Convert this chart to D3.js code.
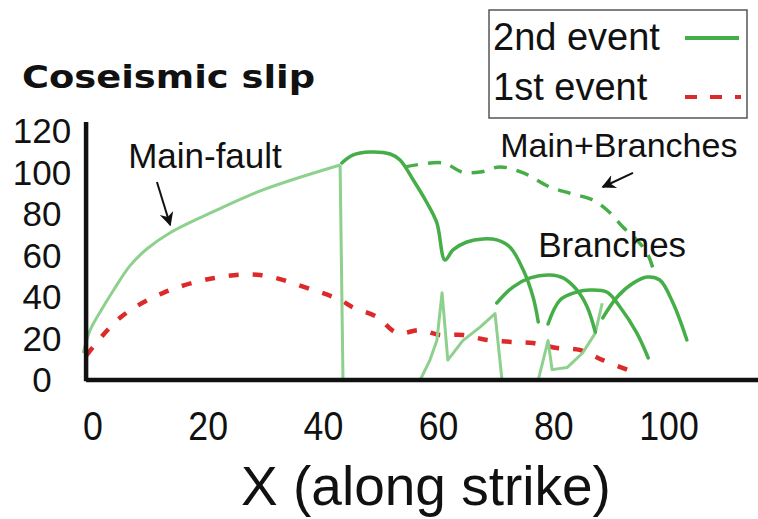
<!DOCTYPE html>
<html>
<head>
<meta charset="utf-8">
<script src="https://cdn.jsdelivr.net/npm/d3@7"></script>
<style>
  body { margin: 0; background: #fff; }
  svg { display: block; font-family: "Liberation Sans", Arial, sans-serif; }
</style>
</head>
<body>
<div id="chart"></div>
<script>
// tick labels
var xTicks = [0, 20, 40, 60, 80, 100];
var yTicks = [0, 20, 40, 60, 80, 100, 120];

// 2nd event, main fault alone (light green)
var mainFault = [[-1.7, 13], [-0.5, 24], [1.5, 34], [3.5, 43], [6.4, 55], [9.5, 63.5], [13.4, 71],
  [20.8, 81], [29.5, 91.6], [42.9, 103.6]];
// 2nd event, what is left of the main fault after branching (light green, sharp)
var mainFaultRest = [[42.9, 103.6], [43.4, 0], [56.8, 0], [58.5, 9.6], [59.7, 19], [60.6, 42],
  [61.6, 9.6], [64.2, 19], [67.2, 25.5], [69.8, 32], [71, 0], [77.3, 0], [79, 19],
  [79.7, 5], [82.3, 6], [85, 13], [87.2, 22.6], [88.4, 37]];
// 2nd event, main fault with branches (dark green)
var mainBranches = [[43.2, 104.6], [45.1, 108.4], [48.1, 109.9], [51.6, 108.9], [53.3, 106],
  [55.6, 96.4], [58, 85.3], [59.7, 75.7], [61.1, 57.8], [62.5, 62.7], [64.9, 66.5],
  [67.7, 68], [70.1, 67.5], [72.4, 64], [74.7, 53], [76.4, 40], [77.3, 28]];
// 2nd event, sum main + branches (dark green dashed)
var mainPlusBranches = [[54.2, 102.7], [60.8, 104.6], [64.1, 100.2], [67.2, 100.2], [70.7, 102.7],
  [74.7, 99.8], [79.3, 93], [82.8, 90], [86.8, 86.7], [89.8, 80.5], [92, 73.7],
  [94.4, 67.5], [96.2, 61.2], [97.2, 54]];
// branch profiles
var branchA = [[70.1, 37.1], [72.9, 44.8], [75.9, 49.2], [79.3, 50.6], [81.6, 49.2], [84, 43.4],
  [85.8, 35.2], [87.2, 23.1]];
var branchB = [[79, 27], [81.1, 38.6], [84, 42.4], [86.3, 43.4], [89.2, 42.4], [91.5, 35.2],
  [94.4, 22.7], [96.4, 10.6]];
var branchC = [[88.5, 29.9], [91, 40], [93.8, 46.7], [96.2, 49.6], [98.4, 48.2], [100.7, 37.1],
  [103.1, 19.3]];
// 1st event (red dashed)
var firstEvent = [[-1.1, 12], [4.7, 30], [12.2, 42], [20.8, 49], [29, 50.6], [38.2, 43.4],
  [42.9, 38.6], [45.1, 35], [49.3, 30.4], [52.8, 22.7], [56.8, 24], [60.2, 21.7],
  [64.2, 21.7], [68.4, 19.3], [72.9, 18.3], [76.4, 17.8], [80.6, 15.4], [84.5, 14.5],
  [88.5, 9.6], [92.9, 4.8]];

var width = 758, height = 519;
var lightGreen = '#8ed08e', darkGreen = '#45ae48', red = '#dc2a2a';

var svg = d3.select('#chart').append('svg')
  .attr('width', width)
  .attr('height', height);

var x = d3.scaleLinear().domain([0, 100]).range([93, 669]);
var y = d3.scaleLinear().domain([0, 120]).range([380, 131]);

var smooth = d3.line()
  .x(function(d) { return x(d[0]); })
  .y(function(d) { return y(d[1]); })
  .curve(d3.curveCatmullRom.alpha(0.5));
var sharp = d3.line()
  .x(function(d) { return x(d[0]); })
  .y(function(d) { return y(d[1]); });

// markers for annotation arrows
var defs = svg.append('defs');
defs.append('marker')
  .attr('id', 'head')
  .attr('viewBox', '0 0 10 10')
  .attr('refX', 9).attr('refY', 5)
  .attr('markerWidth', 9).attr('markerHeight', 7)
  .attr('markerUnits', 'strokeWidth')
  .attr('orient', 'auto')
  .append('path').attr('d', 'M0,0 L10,5 L0,10 L3,5 Z').attr('fill', '#111');

// 1st event
svg.append('path')
  .attr('d', smooth(firstEvent))
  .attr('fill', 'none').attr('stroke', red)
  .attr('stroke-width', 4.5).attr('stroke-dasharray', '10,14');

// 2nd event, light main fault
svg.append('path')
  .attr('d', smooth(mainFault))
  .attr('fill', 'none').attr('stroke', lightGreen).attr('stroke-width', 3);
svg.append('path')
  .attr('d', sharp(mainFaultRest))
  .attr('fill', 'none').attr('stroke', lightGreen).attr('stroke-width', 3)
  .attr('stroke-linejoin', 'round');

// dark green solid profiles
[mainBranches, branchA, branchB, branchC].forEach(function(s) {
  svg.append('path')
    .attr('d', smooth(s))
    .attr('fill', 'none').attr('stroke', darkGreen)
    .attr('stroke-width', 3.5).attr('stroke-linecap', 'round');
});

// dashed sum
svg.append('path')
  .attr('d', smooth(mainPlusBranches))
  .attr('fill', 'none').attr('stroke', darkGreen)
  .attr('stroke-width', 3.5).attr('stroke-dasharray', '13,10');

// axes
svg.append('line')
  .attr('x1', x(-1.2)).attr('x2', x(-1.2))
  .attr('y1', y(124.3)).attr('y2', y(-0.6))
  .attr('stroke', '#111').attr('stroke-width', 4.5);
svg.append('line')
  .attr('x1', x(-1.2)).attr('x2', width)
  .attr('y1', y(0)).attr('y2', y(0))
  .attr('stroke', '#111').attr('stroke-width', 4.5);

svg.selectAll('.ytick').data(yTicks).enter()
  .append('text').attr('class', 'ytick')
  .attr('x', 42)
  .attr('y', function(d) { return y(d) + 12; })
  .attr('text-anchor', 'middle')
  .attr('font-size', 35).attr('fill', '#111')
  .text(function(d) { return d; });

svg.selectAll('.xtick').data(xTicks).enter()
  .append('text').attr('class', 'xtick')
  .attr('transform', function(d) { return 'translate(' + x(d) + ',440) scale(0.87,1)'; })
  .attr('text-anchor', 'middle')
  .attr('font-size', 41).attr('fill', '#111')
  .text(function(d) { return d; });

svg.append('text')
  .attr('x', 426).attr('y', 505)
  .attr('text-anchor', 'middle')
  .attr('font-size', 55).attr('fill', '#111')
  .text('X (along strike)');

// title
svg.append('text')
  .attr('x', 22).attr('y', 88)
  .attr('font-family', '"DejaVu Sans", sans-serif')
  .attr('font-weight', 'bold')
  .attr('font-size', 32)
  .attr('textLength', 293).attr('lengthAdjust', 'spacingAndGlyphs')
  .attr('fill', '#111')
  .text('Coseismic slip');

// annotations
svg.append('text')
  .attr('x', x(6.1)).attr('y', y(102.2))
  .attr('font-size', 35).attr('fill', '#111')
  .text('Main-fault');
svg.append('line')
  .attr('x1', x(11.1)).attr('y1', y(95.4))
  .attr('x2', x(13.4)).attr('y2', y(74.7))
  .attr('stroke', '#111').attr('stroke-width', 2)
  .attr('marker-end', 'url(#head)');

svg.append('text')
  .attr('x', x(70.7)).attr('y', y(107.5))
  .attr('font-size', 34).attr('fill', '#111')
  .text('Main+Branches');
svg.append('line')
  .attr('x1', x(93.75)).attr('y1', y(99.8))
  .attr('x2', x(88.5)).attr('y2', y(93))
  .attr('stroke', '#111').attr('stroke-width', 2)
  .attr('marker-end', 'url(#head)');

svg.append('text')
  .attr('x', x(77.3)).attr('y', y(59.3))
  .attr('font-size', 35).attr('fill', '#111')
  .text('Branches');

// legend
var legend = svg.append('g');
legend.append('rect')
  .attr('x', 489).attr('y', 10)
  .attr('width', 258).attr('height', 108)
  .attr('fill', '#fff').attr('stroke', '#555').attr('stroke-width', 1.5);
legend.append('text')
  .attr('x', 493).attr('y', 50)
  .attr('font-size', 38).attr('fill', '#111')
  .text('2nd event');
legend.append('line')
  .attr('x1', 685).attr('x2', 739).attr('y1', 38).attr('y2', 38)
  .attr('stroke', darkGreen).attr('stroke-width', 4);
legend.append('text')
  .attr('x', 493).attr('y', 100)
  .attr('font-size', 38).attr('fill', '#111')
  .text('1st event');
legend.append('line')
  .attr('x1', 685).attr('x2', 741).attr('y1', 97).attr('y2', 97)
  .attr('stroke', red).attr('stroke-width', 4).attr('stroke-dasharray', '12,13');
</script>
</body>
</html>
